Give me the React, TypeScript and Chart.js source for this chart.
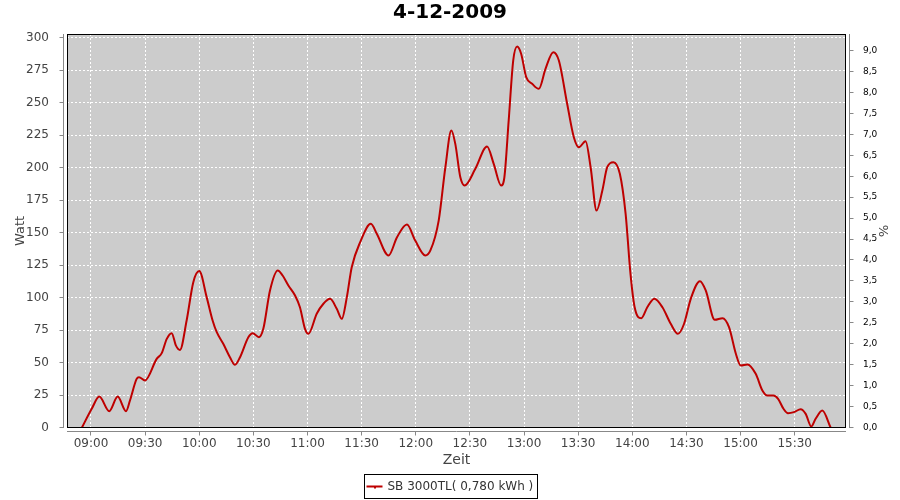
import React, { useEffect, useRef } from 'react';
import { Chart, registerables } from 'chart.js';

Chart.register(...registerables);

const TITLE = '4-12-2009';
const SERIES_LABEL = 'SB 3000TL( 0,780 kWh )';
const X_TITLE = 'Zeit';
const Y_TITLE = 'Watt';
const Y2_TITLE = '%';

// time of day in minutes since 00:00
const timeMinutes = [
  535, 540.4, 544.6, 550.1, 554.8, 559.4, 561.6, 565.3, 566.6, 569.9,
  576.4, 579.2, 582, 584.7, 587.1, 589.3, 593, 596.7, 600, 604.1,
  607.4, 609.7, 613.3, 617, 619.8, 622.6, 627.2, 629.6, 633.1, 635.5,
  639.2, 643.5, 646.2, 649.4, 653.1, 655.8, 658.6, 660.5, 665.1, 668.8,
  672.5, 676.2, 679, 681.8, 684.5, 689.2, 695.1, 698.4, 704.9, 709.6,
  715.1, 719.7, 725.3, 728.1, 732.7, 736.4, 739.7, 741.9, 744.7, 747.1,
  753, 759.5, 763.2, 767.3, 769.1, 771.5, 774, 776.2, 778.4, 781.2,
  784.5, 788.2, 791.9, 796.2, 799.3, 803.9, 807.6, 810.4, 814.1, 816.9,
  820.2, 823.4, 826.1, 829.5, 833.1, 836.3, 839, 841.3, 845, 848.3,
  852.2, 856.7, 861.3, 865.3, 868.7, 872.4, 877.5, 880.7, 885.7, 890,
  893.6, 897.4, 900.1, 903.8, 908.4, 912.1, 914.9, 918.2, 920.8, 923.8,
  926.3, 929.6, 933.3, 936.1, 939.2, 941.6, 945.3, 949.9,
];

const wattValues = [
  0, 14.4, 23.8, 12.6, 23.8, 12.6, 20.8, 37.4, 38.7, 36.2,
  52.8, 57.2, 68.2, 72.6, 63, 59.7, 82.3, 111.8, 120.3, 100.3,
  82.3, 73.3, 64.4, 54.1, 48.2, 54.1, 69.5, 72.6, 69.5, 75.9,
  105.4, 120.8, 116.9, 109.2, 101.5, 92.5, 75.9, 72.1, 87.5, 95.2,
  99, 91.3, 83.6, 100.3, 123.3, 142.6, 156.7, 149, 132.3, 146.4,
  156.2, 143.8, 132.3, 136.2, 159.2, 200.2, 228.5, 218.2, 192.5, 186.2,
  199, 216.2, 202.8, 186.2, 192.5, 236.2, 282.3, 293.1, 287.5, 269.5,
  264.4, 260.5, 275.9, 288.7, 282.3, 249, 223.3, 215.6, 220.2, 200.2,
  166.9, 182.3, 200.2, 204.1, 195.2, 164.4, 118.2, 92.5, 84.1, 92.5,
  99, 92.5, 79.8, 72.1, 79.8, 99, 112.5, 105.4, 82.8, 84.1,
  77.2, 56.7, 47.7, 48.5, 41.3, 28.5, 24.6, 24.6, 22.1, 14.4,
  11, 11.8, 14.1, 10.5, 0.8, 6.7, 13.1, 0,
];

const xTickMinutes = [540, 570, 600, 630, 660, 690, 720, 750, 780, 810, 840, 870, 900, 930];
const xTickLabels = ['09:00', '09:30', '10:00', '10:30', '11:00', '11:30', '12:00', '12:30', '13:00', '13:30', '14:00', '14:30', '15:00', '15:30'];
const wattTicks = [0, 25, 50, 75, 100, 125, 150, 175, 200, 225, 250, 275, 300];
const percentTicks = [0, 0.5, 1, 1.5, 2, 2.5, 3, 3.5, 4, 4.5, 5, 5.5, 6, 6.5, 7, 7.5, 8, 8.5, 9];
const percentTickLabels = ['0,0', '0,5', '1,0', '1,5', '2,0', '2,5', '3,0', '3,5', '4,0', '4,5', '5,0', '5,5', '6,0', '6,5', '7,0', '7,5', '8,0', '8,5', '9,0'];

const FONT = "'DejaVu Sans', sans-serif";
const LINE_COLOR = '#BE0000';
const AXIS_COLOR = '#888888';
const LABEL_COLOR = '#444444';

const decorPlugin = {
  id: 'decor',
  beforeDraw(chart: any) {
    const { ctx, chartArea: a } = chart;
    ctx.save();
    ctx.fillStyle = '#ffffff';
    ctx.fillRect(0, 0, chart.width, chart.height);
    ctx.fillStyle = '#CCCCCC';
    ctx.fillRect(a.left, a.top, a.right - a.left, a.bottom - a.top);
    ctx.strokeStyle = '#ffffff';
    ctx.lineWidth = 1;
    ctx.setLineDash([2, 2]);
    const xs = chart.scales.x;
    const ys = chart.scales.y;
    xs.ticks.forEach((t: any) => {
      const px = Math.floor(xs.getPixelForValue(t.value)) + 0.5;
      ctx.beginPath();
      ctx.moveTo(px, a.top);
      ctx.lineTo(px, a.bottom);
      ctx.stroke();
    });
    ys.ticks.forEach((t: any) => {
      const py = Math.floor(ys.getPixelForValue(t.value)) + 0.5;
      ctx.beginPath();
      ctx.moveTo(a.left, py);
      ctx.lineTo(a.right, py);
      ctx.stroke();
    });
    ctx.restore();
  },
  afterDraw(chart: any) {
    const { ctx, chartArea: a } = chart;
    const xs = chart.scales.x;
    const ys = chart.scales.y;
    const y2 = chart.scales.y1;
    ctx.save();
    ctx.setLineDash([]);
    // plot outline
    ctx.strokeStyle = '#000000';
    ctx.lineWidth = 1;
    ctx.strokeRect(a.left + 0.5, a.top + 0.5, a.right - a.left - 1, a.bottom - a.top - 1);

    // axis lines and tick marks
    ctx.strokeStyle = AXIS_COLOR;
    ctx.beginPath();
    const lx = a.left - 3.5;
    ctx.moveTo(lx, a.top);
    ctx.lineTo(lx, a.bottom);
    ys.ticks.forEach((t: any) => {
      const py = Math.floor(ys.getPixelForValue(t.value)) + 0.5;
      ctx.moveTo(lx - 4, py);
      ctx.lineTo(lx, py);
    });
    const rx = a.right + 3.5;
    ctx.moveTo(rx, a.top);
    ctx.lineTo(rx, a.bottom);
    y2.ticks.forEach((t: any) => {
      const py = Math.floor(y2.getPixelForValue(t.value)) + 0.5;
      ctx.moveTo(rx, py);
      ctx.lineTo(rx + 4, py);
    });
    const by = a.bottom + 3.5;
    ctx.moveTo(a.left, by);
    ctx.lineTo(a.right, by);
    xs.ticks.forEach((t: any) => {
      const px = Math.floor(xs.getPixelForValue(t.value)) + 0.5;
      ctx.moveTo(px, by);
      ctx.lineTo(px, by + 4);
    });
    ctx.stroke();

    // axis titles
    ctx.fillStyle = LABEL_COLOR;
    ctx.textAlign = 'center';
    ctx.textBaseline = 'middle';
    ctx.font = `14px ${FONT}`;
    ctx.fillText(X_TITLE, (a.left + a.right) / 2, 460);

    ctx.save();
    ctx.translate(21, (a.top + a.bottom) / 2);
    ctx.rotate(-Math.PI / 2);
    ctx.font = `13px ${FONT}`;
    ctx.fillText(Y_TITLE, 0, 0);
    ctx.restore();

    ctx.save();
    ctx.translate(882, (a.top + a.bottom) / 2);
    ctx.rotate(Math.PI / 2);
    ctx.font = `13px ${FONT}`;
    ctx.fillText(Y2_TITLE, 0, 0);
    ctx.restore();

    // legend
    ctx.font = `12px ${FONT}`;
    const tw = ctx.measureText(SERIES_LABEL).width;
    const boxW = Math.round(2 + 16 + 5 + tw + 4);
    const boxH = 24;
    const bx = Math.round(450 - boxW / 2) + 0.5;
    const bTop = 474.5;
    ctx.strokeStyle = '#000000';
    ctx.strokeRect(bx, bTop, boxW, boxH);
    const cy = bTop + boxH / 2;
    ctx.strokeStyle = LINE_COLOR;
    ctx.lineWidth = 2;
    ctx.beginPath();
    ctx.moveTo(bx + 2, cy);
    ctx.lineTo(bx + 18, cy);
    ctx.moveTo(bx + 10.5, cy);
    ctx.lineTo(bx + 10.5, cy + 2);
    ctx.stroke();
    ctx.fillStyle = '#333333';
    ctx.textAlign = 'left';
    ctx.fillText(SERIES_LABEL, bx + 23, cy + 0.5);
    ctx.restore();
  },
};

export default function App() {
  const canvasRef = useRef<HTMLCanvasElement | null>(null);

  useEffect(() => {
    const canvas = canvasRef.current;
    if (!canvas) return;
    const data = timeMinutes.map((t, i) => ({ x: t, y: wattValues[i] }));
    const fmtTime = (v: number) => {
      const idx = xTickMinutes.indexOf(v);
      if (idx >= 0) return xTickLabels[idx];
      const h = Math.floor(v / 60);
      const m = Math.round(v % 60);
      return `${String(h).padStart(2, '0')}:${String(m).padStart(2, '0')}`;
    };
    const chart = new Chart(canvas, {
      type: 'line',
      data: {
        datasets: [
          {
            label: SERIES_LABEL,
            data,
            borderColor: LINE_COLOR,
            backgroundColor: LINE_COLOR,
            borderWidth: 2,
            pointRadius: 0,
            cubicInterpolationMode: 'monotone',
            fill: false,
            yAxisID: 'y',
            xAxisID: 'x',
          },
        ],
      },
      options: {
        animation: false,
        responsive: true,
        maintainAspectRatio: false,
        layout: { padding: 0 },
        plugins: {
          legend: { display: false },
          tooltip: { enabled: false },
          title: {
            display: true,
            text: TITLE,
            color: '#000000',
            font: { family: FONT, size: 20, weight: 'bold' },
            padding: { top: 1, bottom: 9 },
          },
        },
        scales: {
          x: {
            type: 'linear',
            position: 'bottom',
            min: 526.7,
            max: 958.44,
            grid: { display: false },
            border: { display: false },
            afterBuildTicks: (scale: any) => {
              scale.ticks = xTickMinutes.map((v) => ({ value: v }));
            },
            afterFit: (scale: any) => {
              scale.height = 72;
            },
            ticks: {
              color: LABEL_COLOR,
              font: { family: FONT, size: 12 },
              padding: 1,
              maxRotation: 0,
              autoSkip: false,
              callback: (v: any) => fmtTime(Number(v)),
            },
          },
          y: {
            type: 'linear',
            position: 'left',
            min: -0.38,
            max: 302.7,
            grid: { display: false },
            border: { display: false },
            afterBuildTicks: (scale: any) => {
              scale.ticks = wattTicks.map((v) => ({ value: v }));
            },
            afterFit: (scale: any) => {
              scale.width = 67;
            },
            ticks: {
              color: LABEL_COLOR,
              font: { family: FONT, size: 12 },
              padding: 10,
              autoSkip: false,
              callback: (v: any) => String(v),
            },
          },
          y1: {
            type: 'linear',
            position: 'right',
            min: -0.012,
            max: 9.394,
            grid: { display: false },
            border: { display: false },
            afterBuildTicks: (scale: any) => {
              scale.ticks = percentTicks.map((v) => ({ value: v }));
            },
            afterFit: (scale: any) => {
              scale.width = 54;
            },
            ticks: {
              color: '#000000',
              font: { family: FONT, size: 9 },
              padding: 9,
              autoSkip: false,
              callback: (v: any) => {
                const idx = percentTicks.indexOf(Number(v));
                return idx >= 0 ? percentTickLabels[idx] : String(v).replace('.', ',');
              },
            },
          },
        },
      },
      plugins: [decorPlugin],
    });
    return () => chart.destroy();
  }, []);

  return (
    <div style={{ position: 'fixed', left: 0, top: 0, width: 900, height: 500, background: '#fff' }}>
      <canvas ref={canvasRef} />
    </div>
  );
}
